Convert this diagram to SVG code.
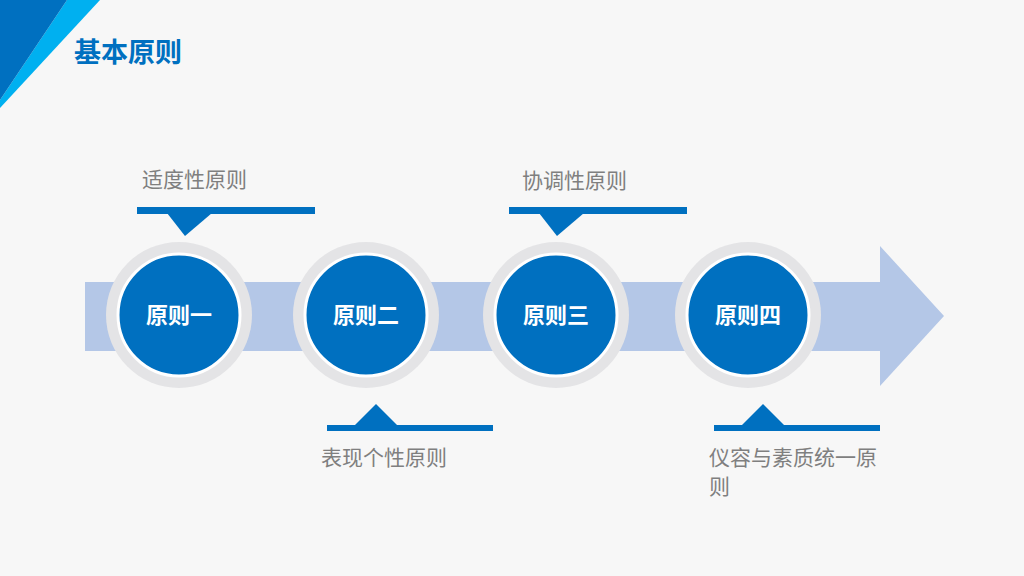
<svg xmlns="http://www.w3.org/2000/svg" width="1024" height="576" viewBox="0 0 1024 576">
<style>
.lbl{font-family:"Liberation Sans","Noto Sans CJK SC",sans-serif;font-size:21px;fill:#7f7f7f}
.ct{font-family:"Liberation Sans","Noto Sans CJK SC",sans-serif;font-size:22px;font-weight:bold;fill:#fff}
.ring{fill:#e4e4e6}
.inner{fill:#0070c0;stroke:#fff;stroke-width:3}
.acc{fill:#0070c0}
</style>
<rect width="1024" height="576" fill="#f7f7f7"/>
<polygon points="67,0 100,0 0,108 0,100" fill="#00b0f0"/>
<polygon points="0,0 67,0 0,100" fill="#0070c0"/>
<text x="74" y="62" font-family="Liberation Sans,Noto Sans CJK SC,sans-serif" font-size="27" font-weight="bold" fill="#0070c0">基本原则</text>
<g id="arrow"><polygon points="85,282 880,282 880,246 944,316 880,386 880,351 85,351" fill="#b4c7e7"/></g>
<g id="connectors">
<rect class="acc" x="137" y="207" width="178" height="7"/><polygon class="acc" points="167,213 212,213 185,236"/>
<rect class="acc" x="509" y="207" width="178" height="7"/><polygon class="acc" points="539,213 584,213 557,236"/>
<rect class="acc" x="327" y="425" width="166" height="6"/><polygon class="acc" points="354,426 398,426 376,404"/>
<rect class="acc" x="714" y="425" width="166" height="6"/><polygon class="acc" points="741,426 785,426 763,404"/>
</g>
<g id="n1"><circle class="ring" cx="179" cy="315" r="73"/><circle class="inner" cx="179" cy="315" r="61"/><text class="ct" x="179" y="323" text-anchor="middle">原则一</text></g>
<g id="n2"><circle class="ring" cx="366" cy="315" r="73"/><circle class="inner" cx="366" cy="315" r="61"/><text class="ct" x="366" y="323" text-anchor="middle">原则二</text></g>
<g id="n3"><circle class="ring" cx="556" cy="315" r="73"/><circle class="inner" cx="556" cy="315" r="61"/><text class="ct" x="556" y="323" text-anchor="middle">原则三</text></g>
<g id="n4"><circle class="ring" cx="748" cy="315" r="73"/><circle class="inner" cx="748" cy="315" r="61"/><text class="ct" x="748" y="323" text-anchor="middle">原则四</text></g>
<g id="labels">
<text class="lbl" x="142" y="187">适度性原则</text>
<text class="lbl" x="522" y="188">协调性原则</text>
<text class="lbl" x="321" y="465">表现个性原则</text>
<text class="lbl" x="709" y="465">仪容与素质统一原</text>
<text class="lbl" x="709" y="494">则</text>
</g>
</svg>
